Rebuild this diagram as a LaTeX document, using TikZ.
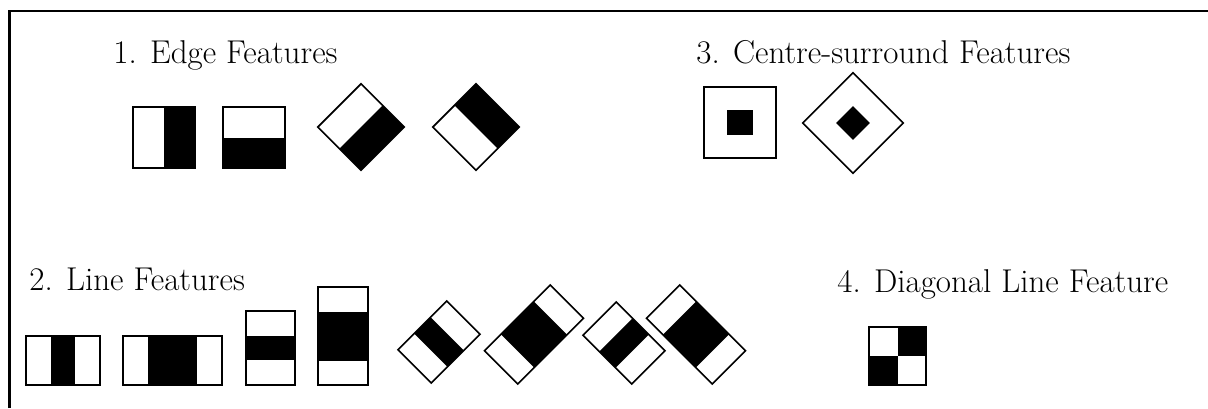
\documentclass[tikz,border=0pt]{standalone}
\usepackage{tikz}
\begin{document}
\begin{tikzpicture}[x=0.5pt,y=-0.5pt,
  feat/.style={draw=black,line width=1pt},
  tilt/.style={draw=black,line width=0.8pt},
  lbl/.style={anchor=base west,inner sep=0pt,font=\fontsize{16.5}{19}\selectfont}]
\useasboundingbox (0,0) rectangle (1208,408);
\draw [line width=1.4pt] (9.5,408) |- (1208,11);
% 1. edge features
\node [lbl] (edgelbl) at (113,63) {1. Edge Features};
\path [fill=black] (164,107) rectangle (195,168);
\draw [feat] (133,107) rectangle (195,168);
\path [fill=black] (223,137.5) rectangle (285,168);
\draw [feat] (223,107) rectangle (285,168);
\begin{scope}[shift={(361,127)},rotate=-45]
\path [fill=black] (0,-30.5) rectangle (30.5,30.5);
\draw [tilt] (-30.5,-30.5) rectangle (30.5,30.5);
\end{scope}
\begin{scope}[shift={(476,127)},rotate=45]
\path [fill=black] (0,-30.5) rectangle (30.5,30.5);
\draw [tilt] (-30.5,-30.5) rectangle (30.5,30.5);
\end{scope}
% 3. centre-surround features
\node [lbl] (centrelbl) at (696,63) {3. Centre-surround Features};
\path [fill=black] (727,110) rectangle (753,135);
\draw [feat] (704,87) rectangle (776,158);
\begin{scope}[shift={(853,123)},rotate=45]
\path [fill=black] (-12,-12) rectangle (12,12);
\draw [tilt] (-35.5,-35.5) rectangle (35.5,35.5);
\end{scope}
% 2. line features
\node [lbl] (linelbl) at (29,290) {2. Line Features};
\path [fill=black] (50.7,336) rectangle (75.3,385);
\draw [feat] (26,336) rectangle (100,385);
\path [fill=black] (147.8,336) rectangle (197.2,385);
\draw [feat] (123,336) rectangle (222,385);
\path [fill=black] (246,335.7) rectangle (295,360.3);
\draw [feat] (246,311) rectangle (295,385);
\path [fill=black] (318,311.5) rectangle (368,360.5);
\draw [feat] (318,287) rectangle (368,385);
\begin{scope}[shift={(439,342)},rotate=45]
\path [fill=black] (-11.5,-23.5) rectangle (11.5,23.5);
\draw [tilt] (-34.5,-23.5) rectangle (34.5,23.5);
\end{scope}
\begin{scope}[shift={(534,334.5)},rotate=45]
\path [fill=black] (-23.25,-23.5) rectangle (23.25,23.5);
\draw [tilt] (-46.5,-23.5) rectangle (46.5,23.5);
\end{scope}
\begin{scope}[shift={(624,343)},rotate=-45]
\path [fill=black] (-11.5,-23.5) rectangle (11.5,23.5);
\draw [tilt] (-34.5,-23.5) rectangle (34.5,23.5);
\end{scope}
\begin{scope}[shift={(696,334.5)},rotate=-45]
\path [fill=black] (-23.25,-23.5) rectangle (23.25,23.5);
\draw [tilt] (-46.5,-23.5) rectangle (46.5,23.5);
\end{scope}
% 4. diagonal line feature
\node [lbl] (diaglbl) at (837,292) {4. Diagonal Line Feature};
\path [fill=black] (897.5,327) rectangle (926,356);
\path [fill=black] (869,356) rectangle (897.5,385);
\draw [feat] (869,327) rectangle (926,385);
\end{tikzpicture}
\end{document}
